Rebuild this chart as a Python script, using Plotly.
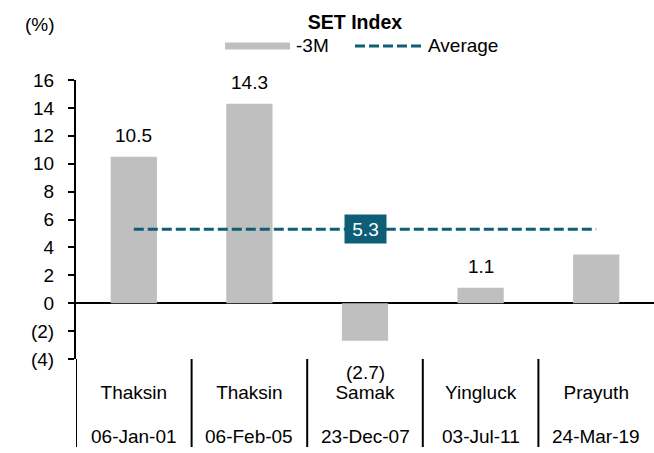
import plotly.graph_objects as go

# ---- data ----
leaders = ["Thaksin", "Thaksin", "Samak", "Yingluck", "Prayuth"]
dates = ["06-Jan-01", "06-Feb-05", "23-Dec-07", "03-Jul-11", "24-Mar-19"]
change_3m = [10.5, 14.3, -2.7, 1.1, 3.5]
show_label = [True, True, True, True, False]
average_value = 5.3
y_ticks = [-4, -2, 0, 2, 4, 6, 8, 10, 12, 14, 16]
series_bar = "-3M"
series_avg = "Average"
chart_title = "SET Index"
unit_label = "(%)"

# ---- style ----
W, H = 654, 453
L, R, T, B = 76, 0, 80, 94
GRAY = "#BFBFBF"
TEAL = "#0F5E78"
FONT = "Liberation Sans, Arial, sans-serif"
FS = 19


def fmt(v):
    return f"{v:.1f}" if v >= 0 else f"({-v:.1f})"


def px_x(x):
    return (x - L) / (W - L - R)


def px_y(y):
    return (H - B - y) / (H - T - B)


xs = list(range(len(leaders)))

fig = go.Figure()
fig.add_trace(go.Bar(x=xs, y=change_3m, name=series_bar, marker_color=GRAY,
                     marker_line_width=0, width=0.4, showlegend=False))
fig.add_trace(go.Scatter(x=[xs[0], xs[-1]], y=[average_value, average_value],
                         mode="lines", name=series_avg, showlegend=False,
                         line=dict(color=TEAL, width=3, dash="10px,4px")))

annotations = []
# bar value labels
for i, (v, s) in enumerate(zip(change_3m, show_label)):
    if not s:
        continue
    annotations.append(dict(x=i, y=v, xref="x", yref="y", text=fmt(v),
                            showarrow=False, yanchor="middle",
                            yshift=21 if v >= 0 else -32,
                            font=dict(size=FS, color="black")))
# average label box
annotations.append(dict(x=(xs[0] + xs[-1]) / 2, y=average_value, xref="x", yref="y",
                        text=f"{average_value:.1f}", showarrow=False,
                        bgcolor=TEAL, width=41, height=28, borderpad=0,
                        font=dict(size=FS, color="white")))
# dates (second category level)
for i, d in enumerate(dates):
    annotations.append(dict(x=i, y=px_y(436), xref="x", yref="paper", text=d,
                            showarrow=False, yanchor="middle",
                            font=dict(size=FS, color="black")))
# unit label
annotations.append(dict(x=px_x(40), y=px_y(24), xref="paper", yref="paper",
                        text=unit_label, showarrow=False, xanchor="center",
                        yanchor="middle", font=dict(size=FS, color="black")))
# manual legend texts
annotations.append(dict(x=px_x(294), y=px_y(45), xref="paper", yref="paper",
                        text=series_bar, showarrow=False, xanchor="left",
                        yanchor="middle", font=dict(size=FS, color="black")))
annotations.append(dict(x=px_x(426), y=px_y(45), xref="paper", yref="paper",
                        text=series_avg, showarrow=False, xanchor="left",
                        yanchor="middle", font=dict(size=FS, color="black")))

shapes = []
# category separators + extension of the y axis line
for k in range(len(leaders)):
    shapes.append(dict(type="line", xref="x", yref="paper", x0=k - 0.5, x1=k - 0.5,
                       y0=0, y1=px_y(447), line=dict(color="black", width=2)))
# legend swatches
shapes.append(dict(type="rect", xref="paper", yref="paper",
                   x0=px_x(225), x1=px_x(290), y0=px_y(49.5), y1=px_y(42.5),
                   fillcolor=GRAY, line=dict(width=0)))
shapes.append(dict(type="line", xref="paper", yref="paper",
                   x0=px_x(355), x1=px_x(421), y0=px_y(46), y1=px_y(46),
                   line=dict(color=TEAL, width=3, dash="10px,4px")))

fig.update_layout(
    width=W, height=H,
    margin=dict(l=L, r=R, t=T, b=B, autoexpand=False),
    paper_bgcolor="white", plot_bgcolor="white",
    font=dict(family=FONT, size=FS, color="black"),
    title=dict(text=f"<b>{chart_title}</b>", x=355 / W, xref="container",
               xanchor="center", y=1 - 22 / H, yref="container", yanchor="middle",
               font=dict(size=19.5, color="black", family=FONT)),
    showlegend=False,
    bargap=0.6,
    annotations=annotations,
    shapes=shapes,
    xaxis=dict(range=[-0.5, len(leaders) - 0.5], tickvals=xs, ticktext=leaders,
               showline=False, showgrid=False, zeroline=False, ticks="",
               ticklabelstandoff=20, tickfont=dict(size=FS, color="black")),
    yaxis=dict(range=[y_ticks[0], y_ticks[-1]], tickvals=y_ticks,
               ticktext=[fmt(t).replace(".0", "") for t in y_ticks],
               showline=True, linecolor="black", linewidth=2,
               ticks="outside", ticklen=6, tickwidth=2, tickcolor="black",
               showgrid=False, zeroline=True, zerolinecolor="black", zerolinewidth=2,
               ticklabelstandoff=10, tickfont=dict(size=FS, color="black")),
)

fig.write_html(
    "out.html",
    config={"displayModeBar": False},
    post_script="document.body.style.margin='0';document.body.style.padding='0';"
                "document.documentElement.style.overflow='hidden';",
)
